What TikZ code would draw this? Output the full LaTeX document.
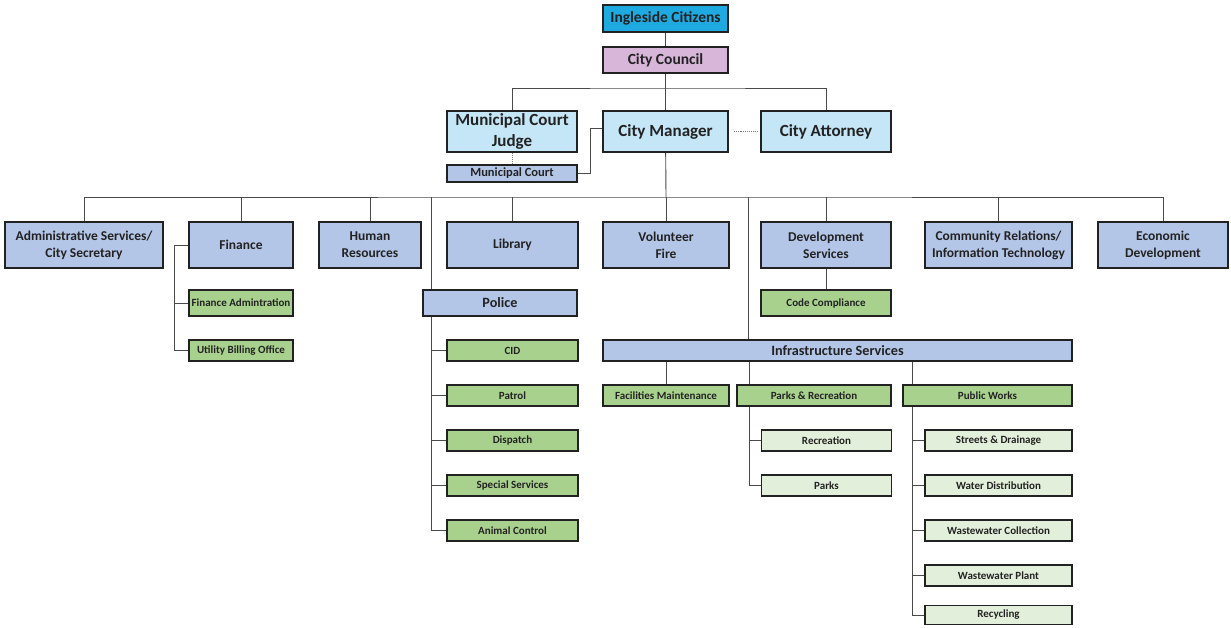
\documentclass[tikz,border=0pt]{standalone}
\usepackage{fontspec}
\setmainfont{Carlito}
\usepackage{tikz}
\usetikzlibrary{positioning}

\definecolor{citizen}{HTML}{1EA9E1}
\definecolor{council}{HTML}{D7B6DA}
\definecolor{office}{HTML}{C4E6F6}
\definecolor{dept}{HTML}{B4C6E7}
\definecolor{division}{HTML}{A9D18E}
\definecolor{section}{HTML}{E2EFDA}
\definecolor{ink}{HTML}{222222}
\definecolor{wire}{HTML}{4A4A4A}

\begin{document}
\begin{tikzpicture}[x=1pt, y=-1pt,
    box/.style={draw=ink, line width=1.6pt, inner sep=1pt, align=center,
      font=\bfseries, text=ink},
    top/.style={box, fill=council, minimum width=125pt, minimum height=26.5pt,
      font=\bfseries\fontsize{15.5}{18}\selectfont},
    office/.style={box, fill=office, minimum height=41.5pt,
      font=\bfseries\fontsize{17}{21}\selectfont},
    dept/.style={box, fill=dept, minimum height=46.5pt,
      font=\bfseries\fontsize{13.5}{17}\selectfont},
    bar/.style={box, fill=dept, minimum height=26.5pt,
      font=\bfseries\fontsize{14.2}{16}\selectfont},
    div/.style={box, fill=division, minimum height=21.5pt,
      font=\bfseries\fontsize{11}{12}\selectfont},
    sec/.style={box, fill=section, minimum width=130pt, minimum height=21.5pt,
      font=\bfseries\fontsize{11}{12}\selectfont},
    link/.style={draw=wire, line width=0.9pt}]
  \useasboundingbox (0,0) rectangle (1231,627);

  % elected and appointed
  \node[top, fill=citizen] (citizens) at (665.5, 18.5) {Ingleside Citizens};
  \node[top] (council) at (665.5, 60) {City Council};
  \node[office, minimum width=130pt] (judge) at (512, 131.5) {Municipal Court\\Judge};
  \node[office, minimum width=125pt] (manager) at (665.5, 131.5) {City Manager};
  \node[office, minimum width=130pt] (attorney) at (826, 131.5) {City Attorney};
  \node[box, fill=dept, minimum width=130pt, minimum height=17.5pt,
    font=\bfseries\fontsize{12.5}{14}\selectfont] (court) at (512, 173.5) {Municipal Court};

  % departments
  \node[dept, minimum width=158pt] (admin) at (84, 245) {Administrative Services/\\City Secretary};
  \node[dept, minimum width=104pt] (finance) at (241, 245) {Finance};
  \node[dept, minimum width=102pt] (hr) at (370, 245) {Human\\Resources};
  \node[dept, minimum width=131pt] (library) at (512.5, 245) {Library};
  \node[dept, minimum width=126pt] (fire) at (666, 245) {Volunteer\\Fire};
  \node[dept, minimum width=130pt] (devel) at (826, 245) {Development\\Services};
  \node[dept, minimum width=147pt] (comm) at (998.5, 245) {Community Relations/\\Information Technology};
  \node[dept, minimum width=130pt] (econ) at (1163, 245) {Economic\\Development};

  % finance
  \node[div, minimum width=104pt, minimum height=26.5pt] (finadmin) at (241, 303) {Finance Admintration};
  \node[div, minimum width=104pt] (billing) at (241, 350.5) {Utility Billing Office};

  % police
  \node[bar, minimum width=154pt] (police) at (500, 303) {Police};
  \node[div, minimum width=131pt] (cid) at (512.5, 350.5) {CID};
  \node[div, minimum width=131pt] (patrol) at (512.5, 395.5) {Patrol};
  \node[div, minimum width=131pt] (dispatch) at (512.5, 440.5) {Dispatch};
  \node[div, minimum width=131pt] (special) at (512.5, 485.5) {Special Services};
  \node[div, minimum width=131pt] (animal) at (512.5, 530.5) {Animal Control};

  % development
  \node[div, minimum width=130pt, minimum height=26.5pt] (code) at (826, 303) {Code Compliance};

  % infrastructure
  \node[bar, minimum width=469pt, minimum height=21.5pt] (infra) at (837.5, 350.5) {Infrastructure Services};
  \node[div, minimum width=126pt] (facility) at (666, 395.5) {Facilities Maintenance};
  \node[div, minimum width=154pt] (parkrec) at (814, 395.5) {Parks \& Recreation};
  \node[div, minimum width=169pt] (works) at (987.5, 395.5) {Public Works};
  \node[sec] (recreation) at (826.5, 440.5) {Recreation};
  \node[sec] (parks) at (826.5, 485.5) {Parks};
  \node[sec, minimum width=147pt] (streets) at (998.5, 440.5) {Streets \& Drainage};
  \node[sec, minimum width=147pt] (water) at (998.5, 485.5) {Water Distribution};
  \node[sec, minimum width=147pt] (wwcollect) at (998.5, 530.5) {Wastewater Collection};
  \node[sec, minimum width=147pt] (wwplant) at (998.5, 575.5) {Wastewater Plant};
  \node[sec, minimum width=147pt, minimum height=19pt] (recycle) at (998.5, 615) {Recycling};

  % reporting lines
  \coordinate (upper) at (666, 88);
  \coordinate (bus) at (666, 197);
  \coordinate (polx) at (431, 197);
  \coordinate (infx) at (748, 197);
  \coordinate (finx) at (174, 245);
  \coordinate (prx) at (749, 407);
  \coordinate (pwx) at (912, 407);

  \draw[link] (citizens) -- (council);
  \draw[link] (council) -- (manager);
  \draw[link] (judge.north) |- (upper) -| (attorney.north);
  \draw[link, gray, densely dotted] (judge) -- (court);
  \draw[link, gray, densely dotted, shorten <=5pt, shorten >=3pt] (manager) -- (attorney);
  \draw[link] (court.east) -- ++(13, 0) |- ([yshift=3.5pt]manager.west);

  \draw[link] (manager) -- (bus);
  \draw[link] (admin.north) |- (bus) -| (econ.north);
  \foreach \d in {finance, hr, library, fire, devel, comm}
    \draw[link] (\d.north) -- (\d.north |- bus);
  \draw[link] (polx) -- (polx |- police.north);
  \draw[link] (infx) -- (infx |- infra.north);
  \draw[link] (devel) -- (code);

  \draw[link] (finance.west) -- (finx) |- (billing.west);
  \draw[link] (finx |- finadmin) -- (finadmin.west);

  \draw[link] (polx |- police.south) |- (animal.west);
  \foreach \u in {cid, patrol, dispatch, special}
    \draw[link] (polx |- \u) -- (\u.west);

  \draw[link] (facility.north) -- (facility.north |- infra.south);
  \draw[link] (prx |- parkrec.north) -- (prx |- infra.south);
  \draw[link] (pwx |- works.north) -- (pwx |- infra.south);
  \draw[link] (prx) |- (parks.west);
  \draw[link] (prx |- recreation) -- (recreation.west);
  \draw[link] (pwx) |- (recycle.west);
  \foreach \u in {streets, water, wwcollect, wwplant}
    \draw[link] (pwx |- \u) -- (\u.west);
\end{tikzpicture}
\end{document}
